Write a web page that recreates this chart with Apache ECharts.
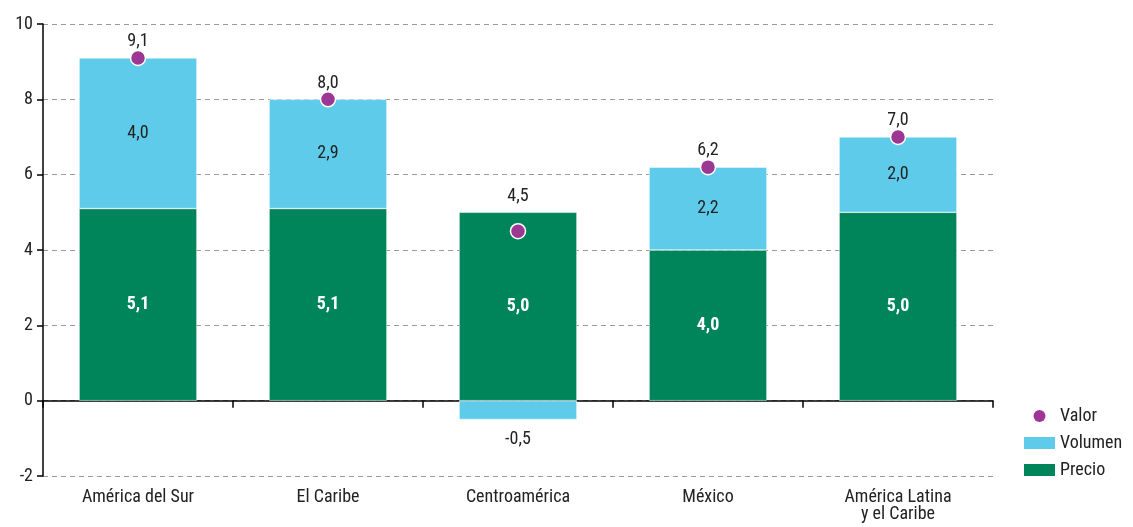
<!DOCTYPE html>
<html><head><meta charset="utf-8">
<script src="https://cdn.jsdelivr.net/npm/echarts@6/dist/echarts.min.js"></script>
<style>html,body{margin:0;padding:0;background:#fff}#c{width:1133px;height:527px}</style>
</head><body><div id="c"></div>
<script>
const categories = ['América del Sur', 'El Caribe', 'Centroamérica', 'México', 'América Latina\ny el Caribe'];
const precio = [5.1, 5.1, 5.0, 4.0, 5.0];
const volumen = [4.0, 2.9, -0.5, 2.2, 2.0];
const valor = [9.1, 8.0, 4.5, 6.2, 7.0];
const yTicks = [-2, 0, 2, 4, 6, 8, 10];

const FONT = "'Roboto Condensed', 'Liberation Sans Narrow', 'Roboto', sans-serif";
const FS = 18;
const fmt = v => v.toFixed(1).replace('.', ',');
const GREEN = '#00855A', BLUE = '#5FCBEB', PURPLE = '#9C3894';

const chart = echarts.init(document.getElementById('c'));
const valorData = valor.map((v, i) => {
  const top = Math.max(precio[i] + Math.max(volumen[i], 0), v);
  const off = (top - v) * (452 / 12);
  return { value: v, label: { offset: [0, -off] } };
});
chart.setOption({
  animation: false,
  textStyle: { fontFamily: FONT },
  grid: { left: 43, right: 140, top: 24, bottom: 51 },
  legend: {
    orient: 'vertical', left: 1019, top: 402,
    itemWidth: 31, itemHeight: 12, itemGap: 9,
    textStyle: { fontFamily: FONT, fontSize: FS, color: '#222' },
    data: [
      { name: 'Valor', icon: 'circle', itemStyle: { opacity: 1, borderWidth: 0 } },
      { name: 'Volumen', icon: 'rect', itemStyle: { borderWidth: 0 } },
      { name: 'Precio', icon: 'rect', itemStyle: { borderWidth: 0 } }
    ]
  },
  xAxis: [
    {
      type: 'category', data: categories,
      axisLine: { onZero: true, lineStyle: { color: '#000', width: 1.5 } },
      axisTick: { show: true, length: 7, lineStyle: { color: '#000', width: 1.5 } },
      axisLabel: { show: false }, splitLine: { show: false }
    },
    {
      type: 'category', data: categories, position: 'bottom',
      axisLine: { show: false, onZero: false }, axisTick: { show: false },
      axisLabel: { fontFamily: FONT, fontSize: FS, color: '#222', margin: 13, lineHeight: 17 },
      splitLine: { show: false }
    }
  ],
  yAxis: {
    type: 'value', min: yTicks[0], max: yTicks[yTicks.length - 1], interval: 2,
    axisLine: { show: true, lineStyle: { color: '#000', width: 1.5 } },
    axisTick: { show: true, length: 6, lineStyle: { color: '#000', width: 1.5 } },
    axisLabel: { fontFamily: FONT, fontSize: FS, color: '#222', margin: 10 },
    splitLine: { show: true, lineStyle: { color: '#9a9a9a', type: [5, 4], width: 1 } }
  },
  series: [
    {
      name: 'Precio', type: 'bar', stack: 's', data: precio, barWidth: '62%',
      itemStyle: { color: GREEN, borderColor: '#fff', borderWidth: 0.5 },
      label: { show: true, position: 'inside', formatter: p => fmt(p.value), color: '#fff', fontWeight: 'bold', fontSize: FS, fontFamily: FONT }
    },
    {
      name: 'Volumen', type: 'bar', stack: 's', barWidth: '62%',
      data: volumen.map(v => ({ value: v, label: { position: v < 0 ? 'bottom' : 'inside', distance: 11 } })),
      itemStyle: { color: BLUE, borderColor: '#fff', borderWidth: 0.5 },
      label: { show: true, formatter: p => fmt(p.value), color: '#222', fontSize: FS, fontFamily: FONT }
    },
    {
      name: 'Valor', type: 'scatter', data: valorData, symbol: 'circle', symbolSize: 15, z: 5,
      itemStyle: { color: PURPLE, opacity: 1, borderColor: '#fff', borderWidth: 1.5 },
      label: { show: true, position: 'top', distance: -1, formatter: p => fmt(p.value), color: '#222', fontSize: FS, fontFamily: FONT }
    }
  ]
});
</script></body></html>
